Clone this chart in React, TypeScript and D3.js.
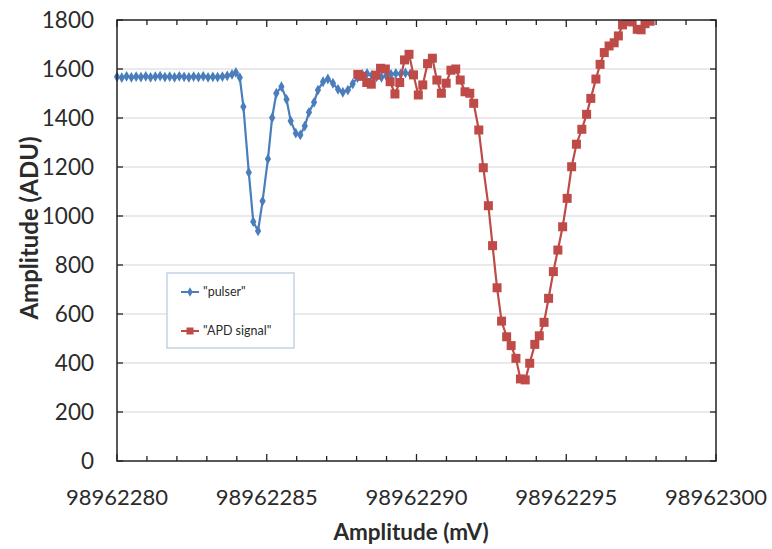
import React, { useEffect, useRef } from 'react';
import * as d3 from 'd3';

// offsets from 98962280 (x axis base)
const X_BASE = 98962280;

const pulserX = [
  0.0, 0.16, 0.32, 0.48, 0.64, 0.8, 0.96, 1.12, 1.28, 1.44, 1.6, 1.76, 1.92, 2.08, 2.24,
  2.4, 2.56, 2.72, 2.88, 3.04, 3.2, 3.36, 3.52, 3.68, 3.84, 3.97, 4.1, 4.22, 4.4, 4.55,
  4.71, 4.86, 5.04, 5.18, 5.32, 5.49, 5.66, 5.8, 5.97, 6.12, 6.27, 6.41, 6.58, 6.71,
  6.88, 7.04, 7.21, 7.38, 7.54, 7.71, 7.87, 8.03, 8.19, 8.35, 8.51, 8.67, 8.83, 8.99,
  9.15, 9.31, 9.47, 9.63, 9.79,
];
const pulserY = [
  1568, 1565, 1570, 1566, 1569, 1567, 1570, 1566, 1569, 1571, 1567, 1569, 1566, 1570, 1568,
  1566, 1569, 1567, 1570, 1566, 1568, 1567, 1569, 1572, 1578, 1586, 1565, 1446, 1178, 977,
  939, 1061, 1233, 1401, 1501, 1528, 1476, 1388, 1338, 1331, 1367, 1423, 1464, 1514,
  1548, 1559, 1542, 1517, 1505, 1514, 1540, 1565, 1578, 1582, 1575, 1568, 1566, 1572,
  1578, 1582, 1580, 1584, 1580,
];

const apdX = [
  8.04, 8.19, 8.34, 8.49, 8.65, 8.8, 8.96, 9.12, 9.28, 9.44, 9.6, 9.75, 9.9, 10.06, 10.21,
  10.37, 10.53, 10.68, 10.83, 10.99, 11.15, 11.31, 11.46, 11.62, 11.78, 11.91, 12.08,
  12.23, 12.4, 12.54, 12.69, 12.84, 13.01, 13.16, 13.32, 13.47, 13.63, 13.78, 13.95,
  14.1, 14.26, 14.41, 14.57, 14.72, 14.88, 15.03, 15.18, 15.34, 15.52, 15.68, 15.82,
  15.99, 16.13, 16.27, 16.43, 16.6, 16.74, 16.88, 17.03, 17.2, 17.37, 17.5, 17.63, 17.8,
];
const apdY = [
  1578, 1570, 1545, 1538, 1575, 1603, 1600, 1548, 1498, 1545, 1637, 1660, 1576, 1494, 1535,
  1622, 1644, 1555, 1501, 1542, 1595, 1600, 1555, 1507, 1501, 1460, 1351,
  1197, 1042, 879, 707, 571, 507, 471, 419, 335, 331, 399, 476,
  511, 566, 664, 773, 861, 956, 1072, 1201, 1293, 1354, 1415, 1480,
  1559, 1619, 1667, 1694, 1707, 1735, 1780, 1795, 1792, 1762, 1760, 1785, 1795,
];

const yTicks = [0, 200, 400, 600, 800, 1000, 1200, 1400, 1600, 1800];
const xTickLabels = ['98962280', '98962285', '98962290', '98962295', '98962300'];

const BLUE = '#4a7ebb';
const RED = '#be4b48';
const FONT = 'Lato, "Open Sans", sans-serif';
const INK = '#2b2b2b';

const App = () => {
  const ref = useRef<SVGSVGElement>(null);

  useEffect(() => {
    const svg = d3.select(ref.current);
    svg.selectAll('*').remove();

    const left = 117, right = 716, top = 20, bottom = 461;
    const x = d3.scaleLinear().domain([0, 20]).range([left, right]);
    const y = d3.scaleLinear().domain([0, 1800]).range([bottom, top]);

    svg.append('defs').append('clipPath').attr('id', 'plotclip')
      .append('rect').attr('x', left - 4).attr('y', top).attr('width', right - left + 4).attr('height', bottom - top);

    // grid
    svg.append('g').selectAll('line').data(yTicks.filter(t => t > 0 && t < 1800)).enter()
      .append('line')
      .attr('x1', left).attr('x2', right)
      .attr('y1', d => y(d)).attr('y2', d => y(d))
      .attr('stroke', '#d6d6d6').attr('stroke-width', 1.2);

    // ticks inside the frame
    const minor = d3.range(0, 21);
    const tk = svg.append('g').attr('stroke', '#222').attr('stroke-width', 1.3);
    tk.selectAll('.bt').data(minor).enter().append('line')
      .attr('x1', d => x(d)).attr('x2', d => x(d))
      .attr('y1', bottom).attr('y2', d => bottom - (d % 5 === 0 ? 7 : 5));
    tk.selectAll('.tt').data(minor).enter().append('line')
      .attr('x1', d => x(d)).attr('x2', d => x(d))
      .attr('y1', top).attr('y2', d => top + (d % 5 === 0 ? 7 : 5));
    tk.selectAll('.lt').data(yTicks).enter().append('line')
      .attr('x1', left).attr('x2', left + 6)
      .attr('y1', d => y(d)).attr('y2', d => y(d));
    tk.selectAll('.rt').data(yTicks).enter().append('line')
      .attr('x1', right).attr('x2', right - 6)
      .attr('y1', d => y(d)).attr('y2', d => y(d));

    const plot = svg.append('g').attr('clip-path', 'url(#plotclip)');

    const pulser = pulserX.map((v, i) => [v, pulserY[i]] as [number, number]);
    const apd = apdX.map((v, i) => [v, apdY[i]] as [number, number]);
    const line = d3.line<[number, number]>().x(d => x(d[0])).y(d => y(d[1]));

    plot.append('path').datum(pulser)
      .attr('fill', 'none').attr('stroke', BLUE).attr('stroke-width', 2.2).attr('d', line);
    plot.selectAll('.dia').data(pulser).enter().append('path')
      .attr('transform', d => `translate(${x(d[0])},${y(d[1])})`)
      .attr('d', d3.symbol(d3.symbolDiamond, 34)())
      .attr('fill', BLUE);

    plot.append('path').datum(apd)
      .attr('fill', 'none').attr('stroke', RED).attr('stroke-width', 2.2).attr('d', line);
    plot.selectAll('.sq').data(apd).enter().append('rect')
      .attr('x', d => x(d[0]) - 4.5).attr('y', d => y(d[1]) - 4.5)
      .attr('width', 9).attr('height', 9)
      .attr('fill', RED);

    // frame
    svg.append('rect').attr('x', left).attr('y', top)
      .attr('width', right - left).attr('height', bottom - top)
      .attr('fill', 'none').attr('stroke', '#222').attr('stroke-width', 1.5);

    // tick labels
    svg.append('g').selectAll('text').data(yTicks).enter().append('text')
      .attr('x', 94).attr('y', d => y(d)).attr('dy', '0.36em')
      .attr('text-anchor', 'end')
      .attr('font-family', FONT).attr('font-size', 22.5).attr('fill', INK)
      .text(d => d);
    svg.append('g').selectAll('text').data(xTickLabels).enter().append('text')
      .attr('x', d => x(+d - X_BASE)).attr('y', 505)
      .attr('text-anchor', 'middle')
      .attr('font-family', FONT).attr('font-size', 22).attr('fill', INK)
      .text(d => d);

    // axis titles
    svg.append('text')
      .attr('transform', `translate(38,228) rotate(-90)`)
      .attr('text-anchor', 'middle')
      .attr('font-family', FONT).attr('font-weight', 'bold').attr('font-size', 24).attr('fill', INK)
      .text('Amplitude (ADU)');
    svg.append('text')
      .attr('x', 411).attr('y', 540)
      .attr('text-anchor', 'middle')
      .attr('font-family', FONT).attr('font-weight', 'bold').attr('font-size', 22.5).attr('fill', INK)
      .text('Amplitude (mV)');

    // legend
    const lg = svg.append('g');
    lg.append('rect').attr('x', 167).attr('y', 273).attr('width', 127).attr('height', 75)
      .attr('fill', '#fff').attr('stroke', '#b4c6e2').attr('stroke-width', 1.2);
    const entries = [
      { name: '"pulser"', color: BLUE, yy: 292, sq: false },
      { name: '"APD signal"', color: RED, yy: 331, sq: true },
    ];
    entries.forEach(e => {
      lg.append('line').attr('x1', 181).attr('x2', 199).attr('y1', e.yy).attr('y2', e.yy)
        .attr('stroke', e.color).attr('stroke-width', 2);
      if (e.sq) {
        lg.append('rect').attr('x', 186.5).attr('y', e.yy - 3.5).attr('width', 7).attr('height', 7).attr('fill', e.color);
      } else {
        lg.append('path').attr('transform', `translate(190,${e.yy})`)
          .attr('d', d3.symbol(d3.symbolDiamond, 26)()).attr('fill', e.color);
      }
      lg.append('text').attr('x', 203).attr('y', e.yy).attr('dy', '0.35em')
        .attr('font-family', FONT).attr('font-size', 12.5).attr('fill', INK)
        .text(e.name);
    });
  }, []);

  return (
    <div style={{ position: 'absolute', left: 0, top: 0, width: 772, height: 549, background: '#fff' }}>
      <svg ref={ref} width={772} height={549}></svg>
    </div>
  );
};

export default App;
